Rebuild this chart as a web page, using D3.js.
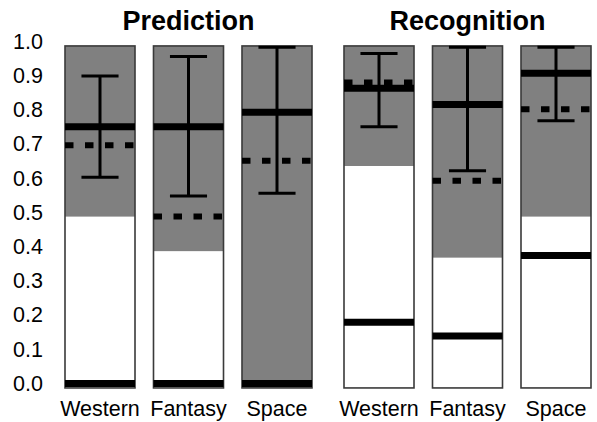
<!DOCTYPE html>
<html>
<head>
<meta charset="utf-8">
<script src="https://cdn.jsdelivr.net/npm/d3@7"></script>
<style>
  body { margin: 0; background: #fff; }
  text { font-family: "Liberation Sans", Arial, sans-serif; fill: #000; }
</style>
</head>
<body>
<div id="chart"></div>
<script>
    // Panels and bars, in drawing order.
    var groups = ['Prediction', 'Recognition'];
    var genres = ['Western', 'Fantasy', 'Space'];
    var yTicks = [0, 0.1, 0.2, 0.3, 0.4, 0.5, 0.6, 0.7, 0.8, 0.9, 1.0];

    // One value per bar: Prediction W/F/S then Recognition W/F/S.
    var shadeFrom = [0.488, 0.387, 0.0, 0.636, 0.368, 0.488];
    var meanHigh = [0.751, 0.751, 0.793, 0.863, 0.816, 0.907];
    var meanLow = [0.0, 0.0, 0.0, 0.179, 0.139, 0.374];
    var dashed = [0.697, 0.488, 0.651, 0.880, 0.593, 0.802];
    var errLow = [0.603, 0.548, 0.556, 0.751, 0.622, 0.768];
    var errHigh = [0.899, 0.956, 0.983, 0.965, 0.983, 0.983];

    // Vertical extent of each framed bar.
    var frameBottom = -0.013,
      frameTop = 0.987;

    var width = 597,
      height = 422;

    var margin = {
      top: 42,
      right: 6,
      bottom: 34,
      left: 65
    };

    var svg = d3.select('#chart')
      .append('svg')
      .attr('width', width)
      .attr('height', height);

    // Create scales.

    var groupScale = d3.scaleBand()
      .domain(groups)
      .range([margin.left, width - margin.right])
      .paddingInner(0.1147);

    var xScale = d3.scaleBand()
      .domain(genres)
      .range([0, groupScale.bandwidth()])
      .paddingInner(0.209);

    var yScale = d3.scaleLinear()
      .domain([0, 1])
      .range([383.5, 41.5]);

    // Flatten to one record per bar.
    var bars = [];
    groups.forEach(function(g, gi) {
      genres.forEach(function(c, ci) {
        var i = gi * genres.length + ci;
        bars.push({
          group: g,
          genre: c,
          shadeFrom: shadeFrom[i],
          meanHigh: meanHigh[i],
          meanLow: meanLow[i],
          dashed: dashed[i],
          errLow: errLow[i],
          errHigh: errHigh[i]
        });
      });
    });

    // Y axis, labels only.
    svg.append('g')
      .attr('transform', 'translate(' + 44 + ',0)')
      .call(d3.axisLeft(yScale)
        .tickValues(yTicks)
        .tickSize(0)
        .tickPadding(1)
        .tickFormat(d3.format('.1f')))
      .call(function(g) { g.select('.domain').remove(); })
      .selectAll('text')
      .style('font-size', '21.5px')
      .attr('fill', '#000');

    // Panel titles.
    svg.selectAll('.title')
      .data(groups)
      .enter()
      .append('text')
      .attr('class', 'title')
      .attr('x', function(d) { return groupScale(d) + groupScale.bandwidth() / 2; })
      .attr('y', 30)
      .attr('text-anchor', 'middle')
      .style('font-size', '27px')
      .style('font-weight', 'bold')
      .text(function(d) { return d; });

    var bar = svg.selectAll('.bar')
      .data(bars)
      .enter()
      .append('g')
      .attr('class', 'bar')
      .attr('transform', function(d) {
        return 'translate(' + (groupScale(d.group) + xScale(d.genre)) + ',0)';
      });

    var bw = xScale.bandwidth();

    // White background of each bar.
    bar.append('rect')
      .attr('x', 0)
      .attr('width', bw)
      .attr('y', yScale(frameTop))
      .attr('height', yScale(frameBottom) - yScale(frameTop))
      .attr('fill', '#fff');

    // Grey shaded region.
    bar.append('rect')
      .attr('x', 0)
      .attr('width', bw)
      .attr('y', yScale(frameTop))
      .attr('height', function(d) {
        var lo = d.shadeFrom <= 0 ? frameBottom : d.shadeFrom;
        return yScale(lo) - yScale(frameTop);
      })
      .attr('fill', '#808080');

    // Frame.
    bar.append('rect')
      .attr('x', 0)
      .attr('width', bw)
      .attr('y', yScale(frameTop))
      .attr('height', yScale(frameBottom) - yScale(frameTop))
      .attr('fill', 'none')
      .attr('stroke', '#3a3a3a')
      .attr('stroke-width', 1.6);

    // Error bars.
    var capHalf = bw * 0.265;
    bar.append('line')
      .attr('x1', bw / 2)
      .attr('x2', bw / 2)
      .attr('y1', function(d) { return yScale(d.errHigh); })
      .attr('y2', function(d) { return yScale(d.errLow); })
      .attr('stroke', '#000')
      .attr('stroke-width', 3);

    ['errHigh', 'errLow'].forEach(function(k) {
      bar.append('line')
        .attr('x1', bw / 2 - capHalf)
        .attr('x2', bw / 2 + capHalf)
        .attr('y1', function(d) { return yScale(d[k]); })
        .attr('y2', function(d) { return yScale(d[k]); })
        .attr('stroke', '#000')
        .attr('stroke-width', 3);
    });

    // Dashed reference line.
    bar.append('line')
      .attr('x1', 0)
      .attr('x2', bw)
      .attr('y1', function(d) { return yScale(d.dashed); })
      .attr('y2', function(d) { return yScale(d.dashed); })
      .attr('stroke', '#000')
      .attr('stroke-width', 6)
      .attr('stroke-dasharray', '8.5,11.5');

    // Solid lines.
    ['meanHigh', 'meanLow'].forEach(function(k) {
      bar.append('line')
        .attr('x1', 0)
        .attr('x2', bw)
        .attr('y1', function(d) { return yScale(d[k]); })
        .attr('y2', function(d) { return yScale(d[k]); })
        .attr('stroke', '#000')
        .attr('stroke-width', 7);
    });

    // Category labels.
    bar.append('text')
      .attr('x', bw / 2)
      .attr('y', 416)
      .attr('text-anchor', 'middle')
      .style('font-size', '21.5px')
      .text(function(d) { return d.genre; });
</script>
</body>
</html>
